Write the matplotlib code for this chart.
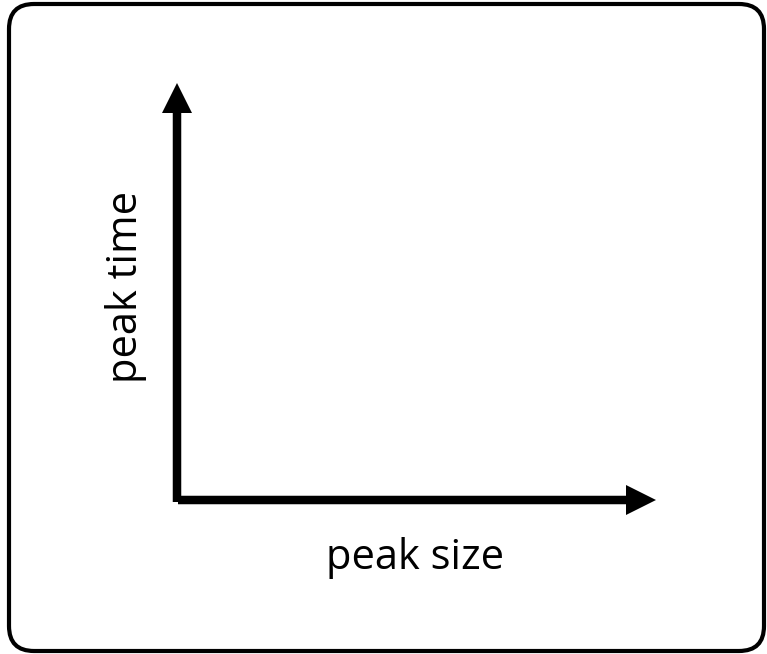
import matplotlib
matplotlib.use("Agg")
import matplotlib.pyplot as plt
from matplotlib.patches import FancyBboxPatch, FancyArrow

plt.rcParams['font.family'] = ['Open Sans', 'DejaVu Sans']

# axis labels of the sketch
x_label = "peak size"
y_label = "peak time"

W, H = 767, 654
fig = plt.figure(figsize=(W / 100, H / 100), dpi=100)
ax = fig.add_axes([0, 0, 1, 1])
ax.set_xlim(0, W)
ax.set_ylim(H, 0)
ax.axis("off")

# rounded frame
frame = FancyBboxPatch((9, 4), 755, 647, boxstyle="round,pad=0,rounding_size=25",
                       fc="white", ec="black", lw=3.0, clip_on=False)
ax.add_patch(frame)

origin = (177, 500)
shaft = 8.5
head_w = 30
head_l = 30

# y axis arrow
ax.add_patch(FancyArrow(origin[0], origin[1] + 2, 0, 83 - origin[1] - 2,
                        width=shaft, head_width=head_w, head_length=head_l,
                        length_includes_head=True, fc="black", ec="none"))
# x axis arrow
ax.add_patch(FancyArrow(origin[0] + 1, origin[1], 656 - origin[0] - 1, 0,
                        width=shaft, head_width=head_w, head_length=head_l,
                        length_includes_head=True, fc="black", ec="none"))

ax.text(415, 558, x_label, fontsize=30, ha="center", va="center")
ax.text(126, 287, y_label, fontsize=30, ha="center", va="center", rotation=90)

fig.savefig("out.png", dpi=100)
